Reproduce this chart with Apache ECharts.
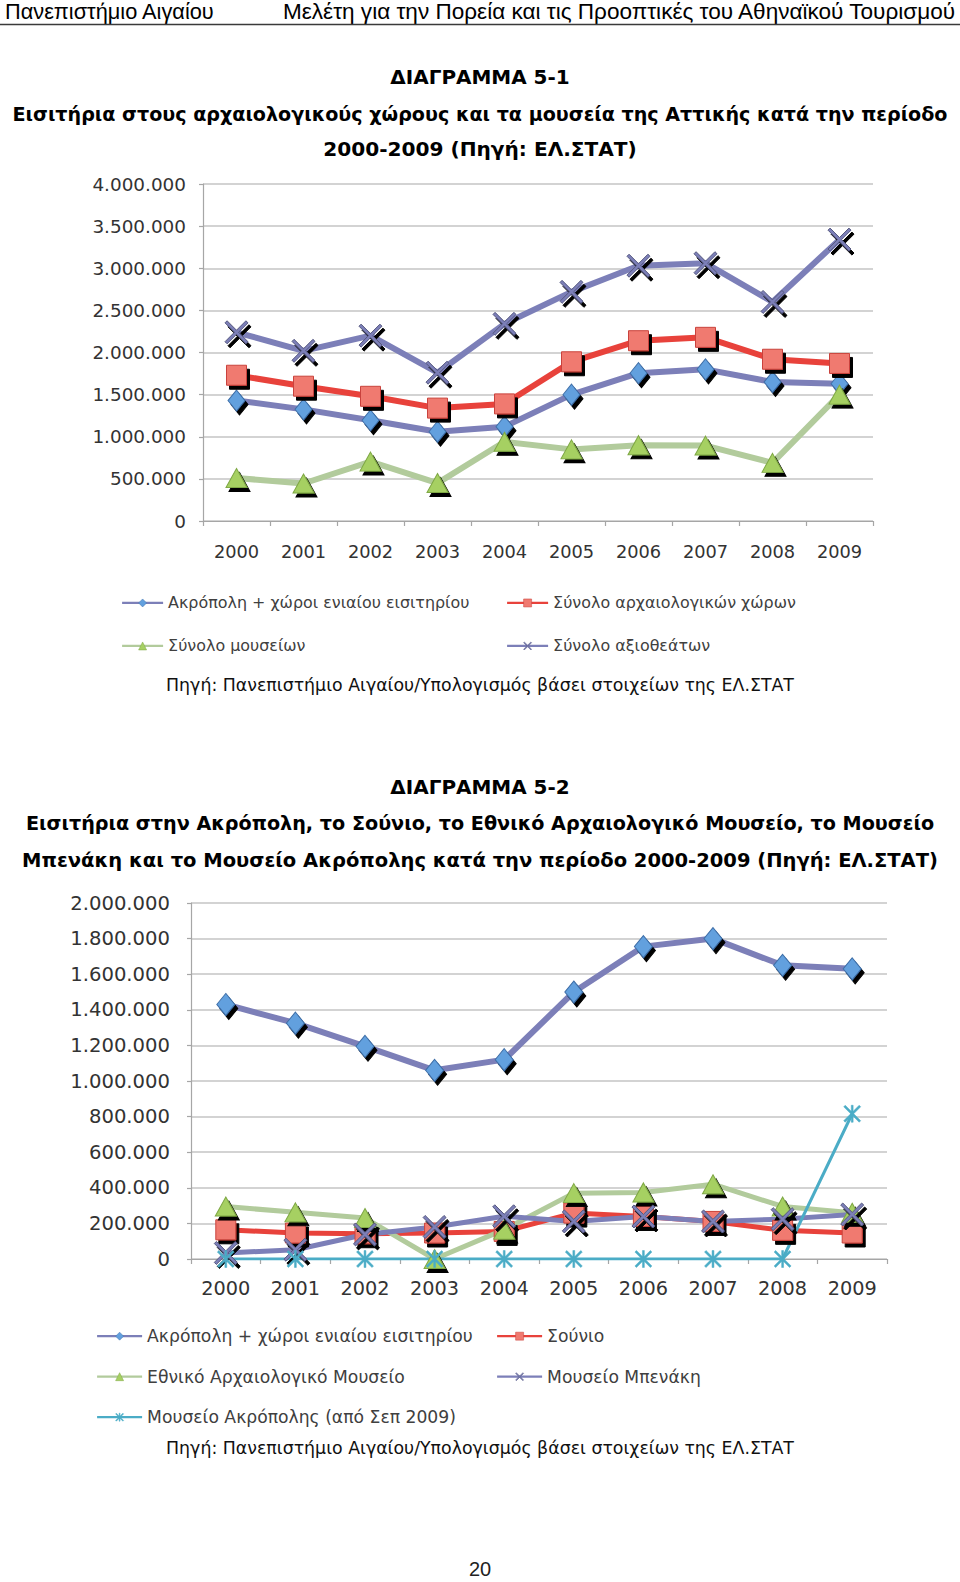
<!DOCTYPE html>
<html><head><meta charset="utf-8">
<script src="https://cdn.jsdelivr.net/npm/echarts@6.0.0/dist/echarts.min.js"></script>
<style>
html,body{margin:0;padding:0;background:#fff;}
#c1{position:absolute;left:0;top:0;width:960px;height:740px;}
#c2{position:absolute;left:0;top:740px;width:960px;height:842px;}
</style>
</head><body>
<div id="c1"></div><div id="c2"></div>
<script>
// ---------- DATA ----------
const years = ['2000','2001','2002','2003','2004','2005','2006','2007','2008','2009'];

// Chart 5-1
const acropolisUnified = [1430000,1325000,1195000,1060000,1120000,1500000,1755000,1800000,1650000,1630000];
const archSitesTotal   = [1730000,1600000,1480000,1340000,1390000,1890000,2140000,2180000,1920000,1870000];
const museumsTotal     = [510000,445000,705000,450000,940000,850000,900000,895000,690000,1500000];
const sightsTotal      = [2240000,2020000,2200000,1760000,2340000,2720000,3030000,3060000,2600000,3340000];

// Chart 5-2
const acropolis2       = [1430000,1325000,1195000,1060000,1120000,1500000,1755000,1800000,1650000,1630000];
const sounio           = [164000,146000,142000,146000,155000,258000,239000,211000,161000,146000];
const natArchMuseum    = [295000,262000,230000,0,165000,370000,374000,420000,295000,260000];
const benakiMuseum     = [34000,52000,138000,180000,240000,211000,239000,211000,224000,250000];
const acropolisMuseum  = [0,0,0,0,0,0,0,0,0,816000];

// axis ticks
const yTicks1 = {min:0, max:4000000, interval:500000};
const yTicks2 = {min:0, max:2000000, interval:200000};

// texts
const headerLeft  = 'Πανεπιστήμιο Αιγαίου';
const headerRight = 'Μελέτη για την Πορεία και τις Προοπτικές του Αθηναϊκού Τουρισμού';
const title1 = ['ΔΙΑΓΡΑΜΜΑ 5-1','Εισιτήρια στους αρχαιολογικούς χώρους και τα μουσεία της Αττικής κατά την περίοδο','2000-2009 (Πηγή: ΕΛ.ΣΤΑΤ)'];
const title2 = ['ΔΙΑΓΡΑΜΜΑ 5-2','Εισιτήρια στην Ακρόπολη, το Σούνιο, το Εθνικό Αρχαιολογικό Μουσείο, το Μουσείο','Μπενάκη και το Μουσείο Ακρόπολης κατά την περίοδο 2000-2009 (Πηγή: ΕΛ.ΣΤΑΤ)'];
const sourceText = 'Πηγή: Πανεπιστήμιο Αιγαίου/Υπολογισμός βάσει στοιχείων της ΕΛ.ΣΤΑΤ';
const pageNo = '20';
const names1 = ['Ακρόπολη + χώροι ενιαίου εισιτηρίου','Σύνολο αρχαιολογικών χώρων','Σύνολο μουσείων','Σύνολο αξιοθεάτων'];
const names2 = ['Ακρόπολη + χώροι ενιαίου εισιτηρίου','Σούνιο','Εθνικό Αρχαιολογικό Μουσείο','Μουσείο Μπενάκη','Μουσείο Ακρόπολης (από Σεπ 2009)'];

// ---------- HELPERS ----------
const FF = "'DejaVu Sans', Verdana, sans-serif";
const FH = "'Liberation Sans', Arial, sans-serif";
const mctx = document.createElement('canvas').getContext('2d');
function fit(text, weight, family, target){
  mctx.font = weight + ' 100px ' + family;
  return +(100 * target / mctx.measureText(text).width).toFixed(2);
}
function fmt(v){ return String(v).replace(/\B(?=(\d{3})+(?!\d))/g, '.'); }

const SYM_X = 'path://M0,0.9L0.9,0L5,4.1L9.1,0L10,0.9L5.9,5L10,9.1L9.1,10L5,5.9L0.9,10L0,9.1L4.1,5Z';
const SYM_AST = 'path://M0,0.9L0.9,0L5,4.1L9.1,0L10,0.9L5.9,5L10,9.1L9.1,10L5,5.9L0.9,10L0,9.1L4.1,5Z M4.45,0L5.55,0L5.55,10L4.45,10Z';

const C_LAV = '#7C7FB8', C_RED = '#E8423B', C_GRN = '#B2CB9C', C_CYAN = '#4BACC6';
const shadow = {shadowColor:'#000', shadowBlur:0.5, shadowOffsetX:3, shadowOffsetY:4};

function series(name, data, lineColor, lineW, symbol, size, fill, border){
  return {
    name, type:'line', data, symbol, symbolSize:size,
    lineStyle:{color:lineColor, width:lineW},
    itemStyle:Object.assign({color:fill, borderColor:border, borderWidth:1}, shadow),
    emphasis:{disabled:true}, z:2
  };
}

function legend(name, left, cy, fs, iw){
  return {
    data:[name], left:left, top:cy - fs*0.6, padding:0, itemWidth:iw, itemHeight:10, itemGap:0,
    textStyle:{fontFamily:FF, fontSize:fs, color:'#404040'},
    lineStyle:{width:2.2, shadowBlur:0, shadowOffsetX:0, shadowOffsetY:0, shadowColor:'rgba(0,0,0,0)'},
    itemStyle:{shadowBlur:0, shadowOffsetX:0, shadowOffsetY:0, shadowColor:'rgba(0,0,0,0)', borderWidth:0.5},
    selectedMode:false
  };
}

function txt(text, x, y, font, align, color){
  return {type:'text', x:x, y:y, silent:true,
    style:{text:text, font:font, fill:color||'#000', align:align||'center', verticalAlign:'middle'}};
}

function axes(left, top, width, height, yT, fsX, fsY, yMargin, xMargin){
  return {
    grid:{left, top, width, height, containLabel:false},
    xAxis:{type:'category', data:years, boundaryGap:true,
      axisLine:{show:true, lineStyle:{color:'#A6A6A6', width:1.2}},
      axisTick:{show:true, length:5, lineStyle:{color:'#A6A6A6', width:1.2}},
      axisLabel:{fontFamily:FF, fontSize:fsX, color:'#333', margin:xMargin},
      splitLine:{show:false}},
    yAxis:{type:'value', min:yT.min, max:yT.max, interval:yT.interval,
      axisLine:{show:true, lineStyle:{color:'#A6A6A6', width:1.2}},
      axisTick:{show:true, length:4, lineStyle:{color:'#A6A6A6', width:1.2}},
      axisLabel:{fontFamily:FF, fontSize:fsY, color:'#333', margin:yMargin, formatter:fmt},
      splitLine:{show:true, lineStyle:{color:'#C4C4C4', width:1.5}}}
  };
}

// ---------- CHART 1 (top) ----------
const fsHeadL = fit(headerLeft, 'normal', FH, 210);
const fsHeadR = fit(headerRight, 'normal', FH, 674);
const fsT1a = fit(title1[0], 'bold', FF, 179.5);
const fsT1b = fit(title1[1], 'bold', FF, 936);
const fsT1c = fit(title1[2], 'bold', FF, 313.6);
const fsSrc = fit(sourceText, 'normal', FF, 628);
const fsLeg1 = fit(names1[0], 'normal', FF, 301.5);

const a1 = axes(203, 184, 670, 337, yTicks1, 17.8, 18.4, 17, 21);
const opt1 = {
  backgroundColor:'#fff', animation:false,
  grid:a1.grid, xAxis:a1.xAxis, yAxis:a1.yAxis,
  legend:[
    legend(names1[0], 121, 604.5, fsLeg1, 41),
    legend(names1[1], 506, 604.5, fsLeg1, 41),
    legend(names1[2], 121, 647.5, fsLeg1, 41),
    legend(names1[3], 506, 647.5, fsLeg1, 41)
  ],
  series:[
    series(names1[0], acropolisUnified, C_LAV, 6, 'diamond', [17,21], '#62A0DE', '#3F6FA8'),
    series(names1[1], archSitesTotal, C_RED, 6, 'rect', [20,20], '#F07A70', '#C9433C'),
    series(names1[2], museumsTotal, C_GRN, 6, 'triangle', [21,19], '#A6D062', '#7FA845'),
    series(names1[3], sightsTotal, C_LAV, 6, SYM_X, [23,23], '#7C7FB8', '#55587F')
  ],
  graphic:[
    txt(headerLeft, 5, 11, 'normal '+fsHeadL+'px '+FH, 'left'),
    txt(headerRight, 955, 11, 'normal '+fsHeadR+'px '+FH, 'right'),
    {type:'line', silent:true, shape:{x1:0,y1:24.5,x2:960,y2:24.5}, style:{stroke:'#3a3a3a', lineWidth:1.5}},
    txt(title1[0], 480, 76.6, 'bold '+fsT1a+'px '+FF),
    txt(title1[1], 480, 114, 'bold '+fsT1b+'px '+FF),
    txt(title1[2], 480, 149.2, 'bold '+fsT1c+'px '+FF),
    txt(sourceText, 480, 685, 'normal '+fsSrc+'px '+FF, 'center', '#111')
  ]
};

// ---------- CHART 2 (bottom, offset 740) ----------
const fsT2a = fit(title2[0], 'bold', FF, 179.5);
const fsT2b = fit(title2[1], 'bold', FF, 908.6);
const fsT2c = fit(title2[2], 'bold', FF, 915.6);
const fsLeg2 = fit(names2[0], 'normal', FF, 325.7);

const a2 = axes(191, 163, 696, 356, yTicks2, 19.3, 19.6, 21, 20);
const opt2 = {
  backgroundColor:'#fff', animation:false,
  grid:a2.grid, xAxis:a2.xAxis, yAxis:a2.yAxis,
  legend:[
    legend(names2[0], 96, 598, fsLeg2, 45),
    legend(names2[1], 496, 598, fsLeg2, 45),
    legend(names2[2], 96, 638.5, fsLeg2, 45),
    legend(names2[3], 496, 638.5, fsLeg2, 45),
    legend(names2[4], 96, 679, fsLeg2, 45)
  ],
  series:[
    series(names2[0], acropolis2, C_LAV, 6, 'diamond', [18,22], '#62A0DE', '#3F6FA8'),
    series(names2[1], sounio, C_RED, 5, 'rect', [20,20], '#F07A70', '#C9433C'),
    series(names2[2], natArchMuseum, C_GRN, 5, 'triangle', [21,19], '#A6D062', '#7FA845'),
    series(names2[3], benakiMuseum, C_LAV, 5, SYM_X, [23,23], '#7C7FB8', '#55587F'),
    Object.assign(series(names2[4], acropolisMuseum, C_CYAN, 3, SYM_AST, [17,17], C_CYAN, C_CYAN),
      {itemStyle:{color:C_CYAN, borderColor:C_CYAN, borderWidth:0.5}})
  ],
  graphic:[
    txt(title2[0], 480, 46.5, 'bold '+fsT2a+'px '+FF),
    txt(title2[1], 480, 83.9, 'bold '+fsT2b+'px '+FF),
    txt(title2[2], 480, 120.2, 'bold '+fsT2c+'px '+FF),
    txt(sourceText, 480, 707.5, 'normal '+fsSrc+'px '+FF, 'center', '#111'),
    txt(pageNo, 480, 829, 'normal 20px '+FH, 'center', '#222')
  ]
};

echarts.init(document.getElementById('c1'), null, {renderer:'svg'}).setOption(opt1);
echarts.init(document.getElementById('c2'), null, {renderer:'svg'}).setOption(opt2);
</script>
</body></html>
